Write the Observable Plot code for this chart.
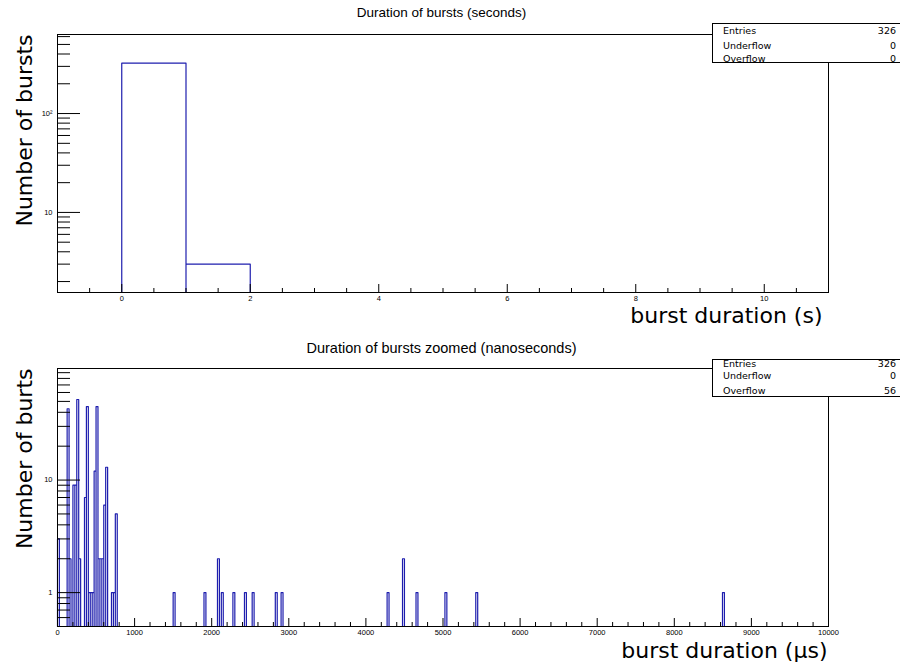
<!DOCTYPE html>
<html><head><meta charset="utf-8">
<script src="https://cdn.jsdelivr.net/npm/d3@7"></script>
<script src="https://cdn.jsdelivr.net/npm/@observablehq/plot@0.6"></script>
<style>
body{margin:0;background:#fff;}
#wrap{position:relative;width:900px;height:664px;overflow:hidden;background:#fff;}
.panel{position:absolute;left:0;}
.stats{position:absolute;background:#fff;border:1px solid #000;box-sizing:border-box;font-family:"DejaVu Sans",sans-serif;font-size:9.5px;line-height:11px;color:#000;}
.stats .row{position:absolute;left:10px;right:4px;height:11px;white-space:nowrap;}
.stats .row span.v{position:absolute;right:0;top:0;}
</style>
</head><body>
<div id="wrap"></div>
<script>
// ---------- data ----------
// Panel 1: burst duration in seconds (bin width 1 s)
const secTitle = "Duration of bursts (seconds)";
const secBinStart = [0, 1];
const secCounts = [323, 3];
const secBinWidth = 1;
const secXMajor = [0, 2, 4, 6, 8, 10];
const secYMajor = [10, 100];
const secYMajorLabels = ["10", "10\u00B2"];
const secYMinor = [2,3,4,5,6,7,8,9,20,30,40,50,60,70,80,90,200,300,400,500,600];
const secStats = [["Entries", "326"], ["Underflow", "0"], ["Overflow", "0"]];

// Panel 2: burst duration zoomed (bin width 25)
const usTitle = "Duration of bursts zoomed (nanoseconds)";
const usBinStart = [0, 125, 150, 200, 225, 250, 275, 350, 375, 400, 425, 450, 475, 500, 525, 550, 575, 600, 625, 700, 725, 750,
                    1500, 1900, 2075, 2125, 2275, 2425, 2525, 2825, 2900, 4275, 4475, 4650, 5025, 5425, 8625];
const usCounts   = [3, 43, 2, 9, 9, 52, 2, 7, 45, 1, 1, 1, 12, 45, 2, 2, 2, 6, 13, 1, 1, 5,
                    1, 1, 2, 1, 1, 1, 1, 1, 1, 1, 2, 1, 1, 1, 1];
const usBinWidth = 25;
const usXMajor = [0,1000,2000,3000,4000,5000,6000,7000,8000,9000,10000];
const usYMajor = [1, 10];
const usYMajorLabels = ["1", "10"];
const usYMinor = [0.6,0.7,0.8,0.9,2,3,4,5,6,7,8,9,20,30,40,50,60,70,80,90];
const usStats = [["Entries", "326"], ["Underflow", "0"], ["Overflow", "56"]];

// ---------- helpers ----------
const W = 900, ML = 57, MR = 72;
const FW = W - ML - MR;
const HIST = "#1e1eae";

function outline(starts, counts, bw, lo, hi, ymin) {
  const pts = [{x: lo, y: ymin}];
  const order = d3.range(starts.length).sort((a, b) => starts[a] - starts[b]);
  for (const i of order) {
    const x0 = starts[i], x1 = starts[i] + bw, v = counts[i];
    pts.push({x: x0, y: ymin}, {x: x0, y: v}, {x: x1, y: v}, {x: x1, y: ymin});
  }
  pts.push({x: hi, y: ymin});
  return pts;
}

function panel(cfg) {
  const FH = cfg.height - cfg.mt - cfg.mb;
  const pts = outline(cfg.starts, cfg.counts, cfg.bw, cfg.xdom[0], cfg.xdom[1], cfg.ydom[0]);
  const labelMap = new Map(cfg.yMajor.map((d, i) => [d, cfg.yMajorLabels[i]]));
  return Plot.plot({
    width: W, height: cfg.height,
    marginLeft: ML, marginRight: MR, marginTop: cfg.mt, marginBottom: cfg.mb,
    style: {fontFamily: "'Liberation Sans', Arial, sans-serif", background: "white", overflow: "visible"},
    x: {domain: cfg.xdom},
    y: {type: "log", domain: cfg.ydom},
    marks: [
      Plot.line(pts, {x: "x", y: "y", stroke: HIST, strokeWidth: 1.2}),
      Plot.ruleY(cfg.yMinor, {stroke: "black", insetRight: FW - 13}),
      Plot.ruleY(cfg.yMajor, {stroke: "black", insetRight: FW - 23}),
      Plot.ruleX(cfg.xMinor, {stroke: "black", insetTop: FH - 4}),
      Plot.ruleX(cfg.xMajor, {stroke: "black", insetTop: FH - 8}),
      Plot.frame({stroke: "black"}),
      Plot.axisX({ticks: cfg.xMajor, tickSize: 0, tickPadding: 3, fontSize: 7.5, label: null, tickFormat: d => String(d)}),
      Plot.axisY({ticks: cfg.yMajor, tickSize: 0, tickPadding: 5, fontSize: 7.5, label: null, tickFormat: d => labelMap.get(d)}),
      Plot.text([cfg.title], {frameAnchor: "top", lineAnchor: "middle", dx: -1.5, dy: cfg.titleDy, fontSize: cfg.titleSize, fill: "black"}),
      Plot.text([cfg.ytitle], {frameAnchor: "top-left", lineAnchor: "middle", dx: -33, rotate: -90, textAnchor: "end", fontSize: 22, fontFamily: "DejaVu Sans", fill: "black"}),
      Plot.text([cfg.xtitle], {frameAnchor: "bottom-right", lineAnchor: "middle", textAnchor: "end", dx: cfg.xtDx, dy: cfg.xtDy, fontSize: 22, fontFamily: "DejaVu Sans", fill: "black"})
    ]
  });
}

const secXMinor = d3.range(-1, 11.01, 0.5).filter(d => !secXMajor.includes(d));
const usXMinor = d3.range(0, 10001, 200).filter(d => !usXMajor.includes(d));

const wrap = document.getElementById("wrap");

const p1 = panel({
  height: 332, mt: 34, mb: 40,
  starts: secBinStart, counts: secCounts, bw: secBinWidth,
  xdom: [-1, 11], ydom: [1.55, 630],
  xMajor: secXMajor, xMinor: secXMinor, yMajor: secYMajor, yMajorLabels: secYMajorLabels, yMinor: secYMinor,
  title: secTitle, titleDy: -22, titleSize: 13.5, ytitle: "Number of bursts", xtitle: "burst duration (s)", xtDx: -6, xtDy: 23
});
p1.classList.add("panel"); p1.style.top = "0px";
wrap.appendChild(p1);

const p2 = panel({
  height: 332, mt: 36, mb: 38,
  starts: usBinStart, counts: usCounts, bw: usBinWidth,
  xdom: [0, 10000], ydom: [0.5, 98],
  xMajor: usXMajor, xMinor: usXMinor, yMajor: usYMajor, yMajorLabels: usYMajorLabels, yMinor: usYMinor,
  title: usTitle, titleDy: -20, titleSize: 14.5, ytitle: "Number of burts", xtitle: "burst duration (\u00B5s)", xtDx: -1, xtDy: 24
});
p2.classList.add("panel"); p2.style.top = "332px";
wrap.appendChild(p2);

function statsBox(rows, left, top, height, rowTops) {
  const box = document.createElement("div");
  box.className = "stats";
  box.style.left = left + "px"; box.style.top = top + "px";
  box.style.width = (W - left + 1) + "px"; box.style.height = height + "px";
  rows.forEach((r, i) => {
    const row = document.createElement("div");
    row.className = "row";
    row.style.top = rowTops[i] + "px";
    const k = document.createElement("span"); k.textContent = r[0];
    const v = document.createElement("span"); v.className = "v"; v.textContent = r[1];
    row.appendChild(k); row.appendChild(v);
    box.appendChild(row);
  });
  wrap.appendChild(box);
}
statsBox(secStats, 712, 23, 40, [1, 16, 29]);
statsBox(usStats, 712, 359, 38, [-2, 10, 25]);
</script>
</body></html>
